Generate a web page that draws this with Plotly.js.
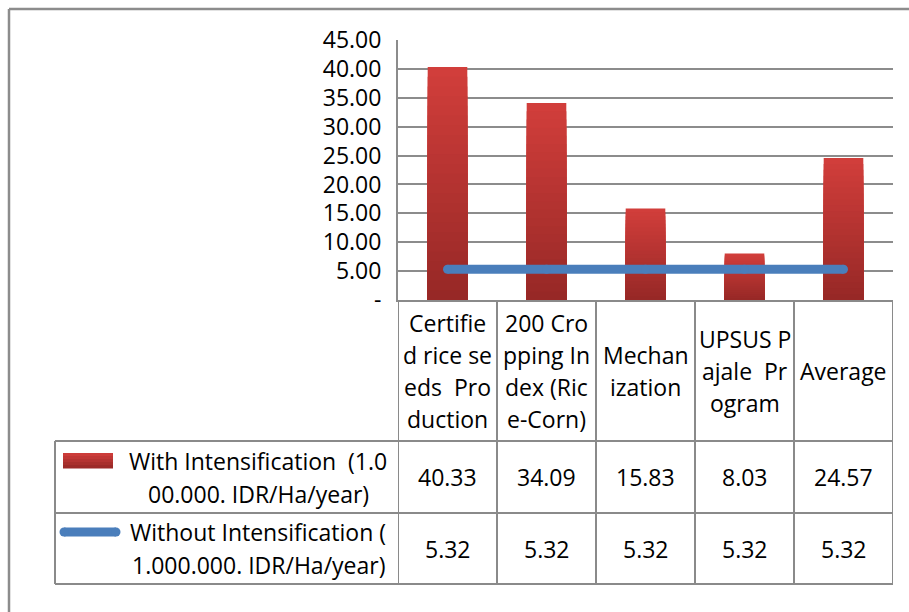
<!DOCTYPE html>
<html>
<head>
<meta charset="utf-8">
<script src="https://cdn.plot.ly/plotly-3.0.1.min.js"></script>
<style>html,body{margin:0;padding:0;background:#fff;}#chart{width:909px;height:612px;}</style>
</head>
<body>
<div id="chart"></div>
<script>
// ---- data ----
const categories = ["Certified rice seeds Production", "200 Cropping Index (Rice-Corn)", "Mechanization", "UPSUS Pajale Program", "Average"];
const headerLines = [
  ["Certifie", "d rice se", "eds&nbsp; Pro", "duction"],
  ["200 Cro", "pping In", "dex (Ric", "e-Corn)"],
  ["Mechan", "ization"],
  ["UPSUS P", "ajale&nbsp; Pr", "ogram"],
  ["Average"]
];
const withIntensification = [40.33, 34.09, 15.83, 8.03, 24.57];
const withoutIntensification = [5.32, 5.32, 5.32, 5.32, 5.32];
const seriesNames = ["With Intensification (1.000.000. IDR/Ha/year)", "Without Intensification (1.000.000. IDR/Ha/year)"];
const seriesLabelLines = [
  ["With Intensification&nbsp; (1.0", "00.000. IDR/Ha/year)"],
  ["Without Intensification (", "1.000.000. IDR/Ha/year)"]
];
const yTickVals = [0, 5, 10, 15, 20, 25, 30, 35, 40, 45];
const yTickText = ["-", "5.00", "10.00", "15.00", "20.00", "25.00", "30.00", "35.00", "40.00", "45.00"];

// ---- layout constants (pixels) ----
const W = 909, H = 612;
const L = 398, R = 893, T = 40, B = 300;
const pw = R - L, ph = B - T;
const px = x => (x - L) / pw;
const py = y => (B - y) / ph;

const FONT = "Open Sans, DejaVu Sans, sans-serif";
const FS = 23;
const GRID = "#8c8c8c";
const TBL = "#8a8a8a";
const BLUE = "#4a7ebb";

// gradient for bars via overlaid bars (top light -> bottom dark)
const gradTop = [210, 62, 59], gradBot = [150, 40, 38];
const N = 24;
const traces = [];
for (let k = 0; k < N; k++) {
  const t = (k + 0.5) / N;
  const c = gradTop.map((v, i) => Math.round(v + (gradBot[i] - v) * t));
  const frac = 1 - k / N;
  traces.push({
    type: "bar",
    x: categories,
    y: withIntensification.map(v => v * frac),
    width: 0.4,
    name: k === 0 ? seriesNames[0] : seriesNames[0] + " shade",
    marker: { color: `rgb(${c[0]},${c[1]},${c[2]})`, line: { width: 0 } },
    showlegend: false,
    hoverinfo: k === 0 ? "y" : "skip"
  });
}
traces.push({
  type: "scatter",
  mode: "lines+markers",
  x: categories,
  y: withoutIntensification,
  name: seriesNames[1],
  line: { color: BLUE, width: 9 },
  marker: { color: BLUE, size: 9 },
  showlegend: false
});

const shapes = [];
const annotations = [];

// outer frame (left and top only visible)
shapes.push({ type: "line", xref: "paper", yref: "paper", x0: px(9), x1: px(909), y0: py(9), y1: py(9), line: { color: GRID, width: 2.5 } });
shapes.push({ type: "line", xref: "paper", yref: "paper", x0: px(9), x1: px(9), y0: py(9), y1: py(612), line: { color: GRID, width: 2.5 } });

// table grid
const rowY = [300, 441, 513, 584];
for (let i = 0; i <= categories.length; i++) {
  shapes.push({ type: "line", xref: "x", yref: "paper", x0: i - 0.5, x1: i - 0.5, y0: py(300), y1: py(584), line: { color: TBL, width: 2 } });
}
for (let j = 1; j < rowY.length; j++) {
  shapes.push({ type: "line", xref: "paper", yref: "paper", x0: px(55), x1: px(893), y0: py(rowY[j]), y1: py(rowY[j]), line: { color: TBL, width: 2 } });
}
shapes.push({ type: "line", xref: "paper", yref: "paper", x0: px(55), x1: px(55), y0: py(441), y1: py(584), line: { color: TBL, width: 2 } });

// header text (each wrapped line placed separately)
const LH = 32;
headerLines.forEach((lines, i) => {
  const cy = 370.5;
  lines.forEach((txt, j) => {
    const y = cy + (j - (lines.length - 1) / 2) * LH;
    annotations.push({ xref: "x", yref: "paper", x: i, y: py(y), text: txt, showarrow: false, xanchor: "center", yanchor: "middle", font: { family: FONT, size: FS, color: "#000" } });
  });
});

// value rows
const rowCenters = [477, 548.5];
[withIntensification, withoutIntensification].forEach((vals, r) => {
  vals.forEach((v, i) => {
    annotations.push({ xref: "x", yref: "paper", x: i, y: py(rowCenters[r]), text: v.toFixed(2), showarrow: false, xanchor: "center", yanchor: "middle", font: { family: FONT, size: FS, color: "#000" } });
  });
});

// series label cells
seriesLabelLines.forEach((lines, r) => {
  lines.forEach((txt, j) => {
    const y = rowCenters[r] + (j - (lines.length - 1) / 2) * 33;
    annotations.push({ xref: "paper", yref: "paper", x: px(258), y: py(y), text: txt, showarrow: false, xanchor: "center", yanchor: "middle", font: { family: FONT, size: FS, color: "#000" } });
  });
});

// legend keys: red gradient rectangle in bands
const KB = 5;
for (let k = 0; k < KB; k++) {
  const t = (k + 0.5) / KB;
  const c = gradTop.map((v, i) => Math.round(v + (gradBot[i] - v) * t));
  const y0 = 453 + k * 15 / KB, y1 = 453 + (k + 1) * 15 / KB + 0.4;
  shapes.push({ type: "rect", xref: "paper", yref: "paper", x0: px(63), x1: px(113), y0: py(y0), y1: py(y1), fillcolor: `rgb(${c[0]},${c[1]},${c[2]})`, line: { width: 0 } });
}
shapes.push({ type: "line", xref: "paper", yref: "paper", x0: px(64), x1: px(116), y0: py(532), y1: py(532), line: { color: BLUE, width: 9 } });
shapes.push({ type: "circle", xref: "paper", yref: "paper", x0: px(59.5), x1: px(68.5), y0: py(527.5), y1: py(536.5), fillcolor: BLUE, line: { width: 0 } });
shapes.push({ type: "circle", xref: "paper", yref: "paper", x0: px(111.5), x1: px(120.5), y0: py(527.5), y1: py(536.5), fillcolor: BLUE, line: { width: 0 } });

const layout = {
  width: W, height: H,
  margin: { l: L, r: W - R, t: T, b: H - B, pad: 0 },
  paper_bgcolor: "#fff", plot_bgcolor: "#fff",
  barmode: "overlay",
  showlegend: false,
  xaxis: {
    type: "category",
    range: [-0.5, categories.length - 0.5],
    showticklabels: false, ticks: "",
    showgrid: false, zeroline: false,
    showline: true, linecolor: TBL, linewidth: 2,
    fixedrange: true
  },
  yaxis: {
    range: [0, 45],
    tickvals: yTickVals, ticktext: yTickText,
    ticks: "", ticklabelstandoff: 10,
    tickfont: { family: FONT, size: FS, color: "#000" },
    showgrid: true, gridcolor: GRID, gridwidth: 2,
    zeroline: false,
    showline: true, linecolor: GRID, linewidth: 2,
    fixedrange: true
  },
  shapes: shapes,
  annotations: annotations
};

Plotly.newPlot("chart", traces, layout, { displayModeBar: false, staticPlot: true });
</script>
</body>
</html>
